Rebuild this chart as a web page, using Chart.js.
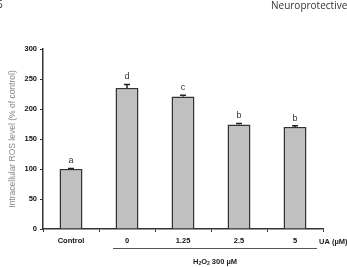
<!DOCTYPE html>
<html>
<head>
<meta charset="utf-8">
<script src="https://cdn.jsdelivr.net/npm/chart.js@4/dist/chart.umd.min.js"></script>
<style>
    html, body { margin: 0; padding: 0; background: #fff; }
    #wrap { position: relative; width: 347px; height: 267px; }
</style>
</head>
<body>
<div id="wrap"><canvas id="ros-chart" width="347" height="267"></canvas></div>
<script>
const categories = ['Control', '0', '1.25', '2.5', '5']
const rosLevel   = [100, 235, 221, 174, 170]
const rosError   = [1, 6, 2, 2, 2]
const sigLetters = ['a', 'd', 'c', 'b', 'b']
const yTicks     = [0, 50, 100, 150, 200, 250, 300]

const annotations = {
    id: 'annotations',
    afterDatasetsDraw(chart) {
        const ctx  = chart.ctx
        const meta = chart.getDatasetMeta(0)
        const y    = chart.scales.y
        ctx.save()
        // error bars and letters
        meta.data.forEach((bar, i) => {
            const top = y.getPixelForValue(rosLevel[i] + rosError[i])
            ctx.strokeStyle = '#222'
            ctx.lineWidth = 1.5
            ctx.beginPath()
            ctx.moveTo(bar.x, bar.y)
            ctx.lineTo(bar.x, top)
            ctx.moveTo(bar.x - 3, top)
            ctx.lineTo(bar.x + 3, top)
            ctx.stroke()
            ctx.fillStyle = '#333'
            ctx.font = '9px Arial, "Liberation Sans", sans-serif'
            ctx.textAlign = 'center'
            ctx.textBaseline = 'bottom'
            ctx.fillText(sigLetters[i], bar.x, top - 3)
        })
        // H2O2 bracket
        const x = chart.scales.x
        const left  = x.getPixelForValue(1) - 14
        const right = x.getPixelForValue(4) + 22
        ctx.strokeStyle = '#555'
        ctx.lineWidth = 1
        ctx.beginPath()
        ctx.moveTo(left, 248.5)
        ctx.lineTo(right, 248.5)
        ctx.stroke()
        ctx.fillStyle = '#222'
        ctx.font = 'bold 7.5px Arial, "Liberation Sans", sans-serif'
        ctx.textAlign = 'left'
        ctx.textBaseline = 'middle'
        ctx.fillText('UA (\u00b5M)', 319, 242)
        const cx = (left + right) / 2
        ctx.textAlign = 'left'
        const parts = [['H', 0], ['2', 2], ['O', 0], ['2', 2], [' 300 \u00b5M', 0]]
        let total = 0
        parts.forEach(([t, s]) => {
            ctx.font = (s ? 'bold 5px ' : 'bold 7.5px ') + 'Arial, "Liberation Sans", sans-serif'
            total += ctx.measureText(t).width
        })
        let px = cx - total / 2
        parts.forEach(([t, s]) => {
            ctx.font = (s ? 'bold 5px ' : 'bold 7.5px ') + 'Arial, "Liberation Sans", sans-serif'
            ctx.fillText(t, px, 262 + s)
            px += ctx.measureText(t).width
        })
        // page header
        ctx.fillStyle = '#333'
        ctx.font = '10px "Open Sans", "Noto Sans", sans-serif'
        ctx.textBaseline = 'middle'
        ctx.textAlign = 'left'
        ctx.fillText('6', -3, 5)
        ctx.fillText('Neuroprotective', 271, 6)
        ctx.restore()
    }
}

new Chart(document.getElementById('ros-chart').getContext('2d'), {
    type: 'bar',
    data: {
        labels: categories,
        datasets: [{
            data: rosLevel,
            backgroundColor: '#c0c0c0',
            borderColor: '#333',
            borderWidth: 1.5,
            barPercentage: 0.41,
            categoryPercentage: 1
        }]
    },
    options: {
        responsive: false,
        animation: false,
        layout: { padding: { top: 49, right: 24, left: 0, bottom: 0 } },
        plugins: {
            legend: { display: false },
            tooltip: { enabled: false }
        },
        scales: {
            x: {
                afterFit: scale => { scale.height = 38 },
                border: { color: '#333', width: 1.5 },
                grid: { drawOnChartArea: false, drawTicks: true, tickLength: 3, color: '#333' },
                ticks: {
                    color: '#111',
                    padding: 4,
                    font: { family: 'Arial, "Liberation Sans", sans-serif', size: 7.5, weight: 'bold' }
                }
            },
            y: {
                min: 0,
                max: 300,
                afterFit: scale => { scale.width = 43 },
                afterBuildTicks: scale => { scale.ticks = yTicks.map(v => ({ value: v })) },
                border: { color: '#333', width: 1.5 },
                grid: { drawOnChartArea: false, drawTicks: true, tickLength: 3, color: '#333' },
                ticks: {
                    color: '#111',
                    padding: 3,
                    font: { family: 'Arial, "Liberation Sans", sans-serif', size: 7.5, weight: 'bold' }
                },
                title: {
                    display: true,
                    text: 'Intracellular ROS level (% of control)',
                    color: '#888',
                    padding: { top: 8, bottom: 4 },
                    font: { family: 'Arial, "Liberation Sans", sans-serif', size: 8.5 }
                }
            }
        }
    },
    plugins: [annotations]
})
</script>
</body>
</html>
